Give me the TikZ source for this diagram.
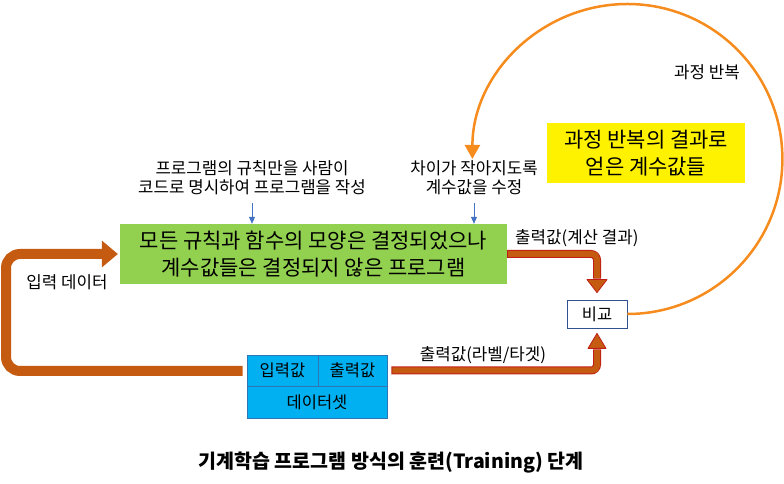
\documentclass[tikz,border=0pt]{standalone}
\usepackage{fontspec}
\setmainfont{Noto Sans CJK KR}
\usetikzlibrary{calc,arrows.meta}
\definecolor{grn}{RGB}{146,208,80}
\definecolor{brn}{RGB}{197,90,17}
\definecolor{brnout}{RGB}{192,30,20}
\definecolor{orng}{RGB}{247,140,30}
\definecolor{cyanb}{RGB}{0,176,240}
\definecolor{blueln}{RGB}{46,117,182}
\definecolor{arrblue}{RGB}{68,114,196}
\definecolor{navyb}{RGB}{47,82,143}
\tikzset{
  box/.style={inner sep=0pt, align=center},
  bigtxt/.style={font=\fontsize{21}{27}\selectfont},
  smalltxt/.style={font=\fontsize{16.8}{19}\selectfont, align=center, inner sep=0pt},
  cell/.style={box, fill=cyanb, draw=blueln, line width=0.8pt, font=\fontsize{16.5}{18}\selectfont},
  thinarrow/.style={draw=arrblue, line width=0.7pt, -{Triangle[width=6pt,length=7pt]}},
}
\begin{document}
\begin{tikzpicture}[x=1pt,y=1pt]
\useasboundingbox (0,0) rectangle (784,484);
% main box
\node[box, bigtxt, fill=grn, minimum width=387, minimum height=60] (green) at (313.5,230)
  {모든 규칙과 함수의 모양은 결정되었으나\\계수값들은 결정되지 않은 프로그램};
\node[smalltxt] (ltxt) at (252,306) {프로그램의 규칙만을 사람이\\코드로 명시하여 프로그램을 작성};
\node[smalltxt] (rtxt) at (474,306) {차이가 작아지도록\\계수값을 수정};
\coordinate (la) at (252,281);
\coordinate (ra) at (474,281);
\draw[thinarrow] (la) -- (la |- green.north);
\draw[thinarrow] (ra) -- (ra |- green.north);
% yellow box
\node[box, bigtxt, fill=yellow, minimum width=198, minimum height=60] (yel) at (646,331)
  {과정 반복의 결과로\\얻은 계수값들};
\node[smalltxt] (rep) at (707,412) {과정 반복};
% compare box
\node[box, draw=navyb, fill=white, line width=0.8pt, minimum width=60, minimum height=28,
  font=\fontsize{16.5}{18}\selectfont] (cmp) at (597,170) {비교};
% loop arc
\draw[orng, line width=2.5pt, -{Triangle[width=15pt,length=14pt]}]
  (cmp.east) arc[start angle=-90, end angle=180, radius=155];
% dataset
\node[cell, minimum width=71, minimum height=31] (inp) at (282.5,113.5) {입력값};
\node[cell, minimum width=69, minimum height=31] (outv) at (352.5,113.5) {출력값};
\node[cell, minimum width=140, minimum height=32] (ds) at (317,82) {데이터셋};
% labels
\node[smalltxt, anchor=west] (o1) at (515,246) {출력값(계산 결과)};
\node[smalltxt] (o2) at (483,129) {출력값(라벨/타겟)};
\node[smalltxt] (inlbl) at (67,202) {입력 데이터};
\node[box, font=\fontsize{19.5}{22}\bfseries\selectfont] (title) at (391,21)
  {기계학습 프로그램 방식의 훈련(Training) 단계};
% top brown arrow: green -> cmp
\coordinate (tb) at ($(cmp.north)+(0,20)$);
\coordinate (tt) at ($(cmp.north)+(0,7)$);
\coordinate (tc) at (cmp.north |- green.east);
\draw[brnout, line width=8pt, rounded corners=6pt] (green.east) -- (tc) -- ($(tb)+(0,1)$);
\draw[brn, line width=6pt, rounded corners=5pt] ($(green.east)+(1,0)$) -- (tc) -- ($(tb)+(0,1.5)$);
\filldraw[fill=brn, draw=brnout, line width=0.8pt, line join=round] ($(tb)+(-10,0)$) -- ($(tb)+(10,0)$) -- (tt) -- cycle;
% bottom brown arrow: outv -> cmp
\coordinate (bb) at ($(cmp.south)+(0,-20)$);
\coordinate (bt) at ($(cmp.south)+(0,-5)$);
\coordinate (bc) at (cmp.south |- outv.east);
\draw[brnout, line width=8pt, rounded corners=6pt] ($(outv.east)+(4,0)$) -- (bc) -- ($(bb)+(0,-1)$);
\draw[brn, line width=6pt, rounded corners=5pt] ($(outv.east)+(5,0)$) -- (bc) -- ($(bb)+(0,-1.5)$);
\filldraw[fill=brn, draw=brnout, line width=0.8pt, line join=round] ($(bb)+(-9,0)$) -- ($(bb)+(9,0)$) -- (bt) -- cycle;
% left big arrow: inp -> green
\coordinate (lh) at ($(green.west)+(-18,0)$);
\coordinate (lt) at ($(green.west)+(-2,0)$);
\draw[brn, line width=10pt, rounded corners=14pt] ($(inp.west)+(-4,-0.5)$) -- (6,113) -- (6,230) -- ($(lh)+(1,0)$);
\fill[brn] ($(lh)+(0,13.5)$) -- ($(lh)+(0,-13.5)$) -- (lt) -- cycle;
\end{tikzpicture}
\end{document}
